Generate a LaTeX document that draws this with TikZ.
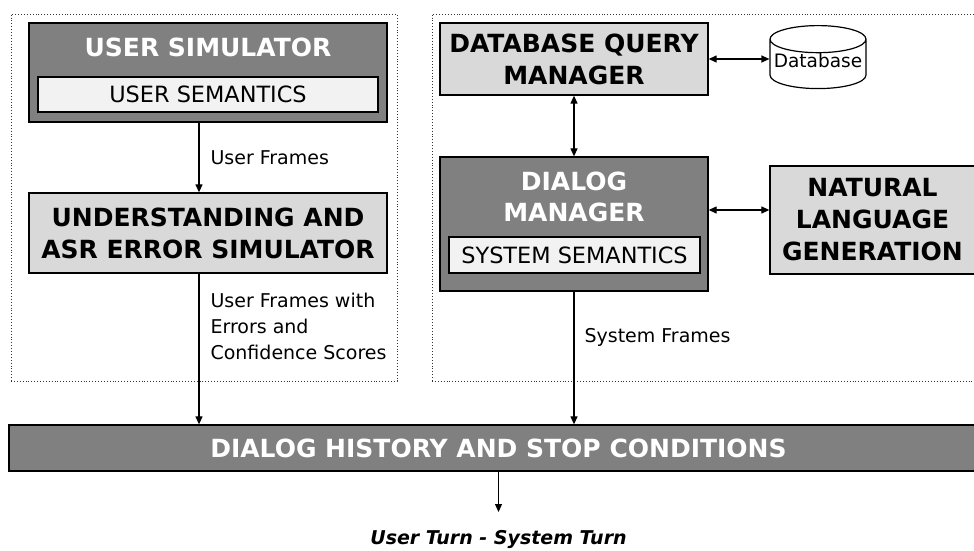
\documentclass[tikz,border=0pt]{standalone}
\usepackage{fontspec}
\setmainfont{DejaVu Sans}
\usetikzlibrary{arrows.meta, shapes.geometric}
\definecolor{darkB} {RGB}{128, 128, 128}
\definecolor{lightB}{RGB}{217, 217, 217}
\definecolor{paleB} {RGB}{242, 242, 242}

\tikzset{
  group/.style={draw=black!80, dotted, line width=0.9pt},
  darkbox/.style={draw, fill=darkB, line width=1.3pt},
  lightbox/.style={draw, fill=lightB, line width=1.3pt, align=center,
    font=\fontsize{25}{32}\selectfont\bfseries},
  semantics/.style={draw, fill=paleB, line width=1.3pt, font=\fontsize{22.4}{26}\selectfont},
  title/.style={text=white, align=center, font=\fontsize{25}{31}\selectfont\bfseries},
  flow/.style={line width=1.2pt, -{Triangle[length=8pt, width=7pt]}},
  twoway/.style={line width=1.2pt, {Triangle[length=8pt, width=7pt]}-{Triangle[length=8pt, width=7pt]}},
  label/.style={align=left, font=\fontsize{19}{26}\selectfont}
}

\begin{document}
\begin{tikzpicture}[x=1pt, y=-1pt]
  \useasboundingbox (0,0) rectangle (974,551);

  % the two dotted groups
  \node[group, minimum width=386, minimum height=367] (usergroup) at (204, 197.5) {};
  \node[group, minimum width=560, minimum height=367] (sysgroup)  at (712, 197.5) {};

  % user side
  \node[darkbox, minimum width=358, minimum height=99] (usersim) at (208, 72.5) {};
  \node[title] (usersimtitle) at (208, 47) {USER SIMULATOR};
  \node[semantics, minimum width=340, minimum height=35] (usersem) at (208, 94.5) {USER SEMANTICS};
  \node[lightbox, minimum width=358, minimum height=80] (understand) at (208, 233)
    {UNDERSTANDING AND\\ASR ERROR SIMULATOR};

  % system side
  \node[lightbox, minimum width=268, minimum height=72] (dbqm) at (574, 59)
    {DATABASE QUERY\\MANAGER};
  \node[cylinder, draw, fill=white, line width=1.2pt, shape border rotate=90, aspect=0.3,
    minimum width=96, minimum height=63, inner sep=1pt, anchor=north,
    font=\fontsize{18.5}{22}\selectfont] (db) at (818, 25) {\smash{\raisebox{-1.5pt}{Database}}};
  \node[darkbox, minimum width=268, minimum height=134] (dm) at (574, 224) {};
  \node[title] (dmtitle) at (574, 196.5) {DIALOG\\MANAGER};
  \node[semantics, minimum width=251, minimum height=36] (syssem) at (574.5, 255) {SYSTEM SEMANTICS};
  \node[lightbox, minimum width=205, minimum height=108] (nlg) at (872.5, 220)
    {NATURAL\\LANGUAGE\\GENERATION};

  % bottom
  \node[darkbox, minimum width=979, minimum height=46, title] (history) at (498.5, 448)
    {DIALOG HISTORY AND STOP CONDITIONS};
  \coordinate (turnend) at (498.5, 512);
  \node[font=\fontsize{19}{22}\selectfont\bfseries\itshape] (turn) at (498.5, 539)
    {User Turn - System Turn};

  % connectors
  \draw[flow] ([xshift=-9pt]usersim.south) -- ([xshift=-9pt]understand.north);
  \draw[flow] ([xshift=-9pt]understand.south) -- ([xshift=-9pt]understand.south |- history.north);
  \draw[twoway] (dbqm.east) -- (dbqm.east -| db.west);
  \draw[twoway] (dbqm.south) -- (dm.north);
  \draw[twoway] ([yshift=14pt]dm.east) -- ([yshift=14pt]dm.east -| nlg.west);
  \draw[flow] (dm.south) -- (dm.south |- history.north);
  \draw[flow] (history.south) -- (turnend);

  \node[label, anchor=west] (uf) at (207, 158) {User Frames};
  \node[label, anchor=west] (ufe) at (207, 326) {User Frames with\\Errors and\\Confidence Scores};
  \node[label, anchor=west] (sf) at (581, 337) {System Frames};
\end{tikzpicture}
\end{document}
